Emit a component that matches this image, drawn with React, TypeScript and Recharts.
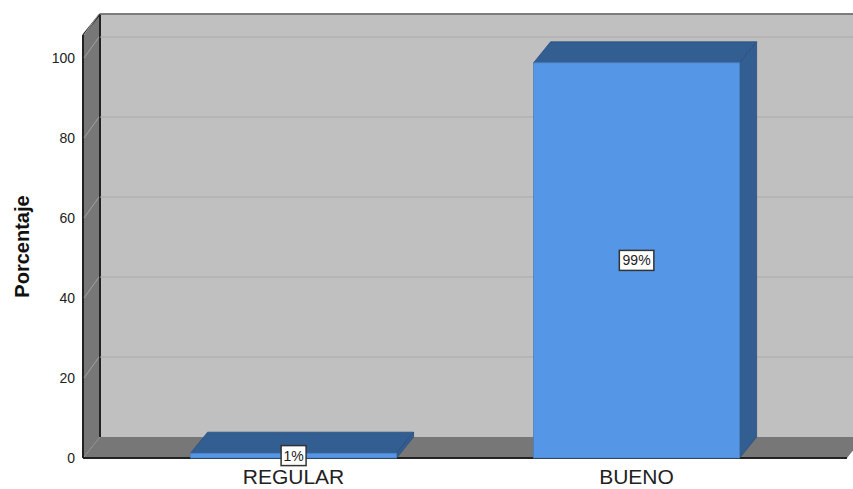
import { BarChart, Bar, XAxis, YAxis, CartesianGrid } from 'recharts';

const categories = ['REGULAR', 'BUENO'];
const percentages = [1.2, 98.8];
const valueLabels = ['1%', '99%'];
const yTicks = [0, 20, 40, 60, 80, 100];

const data = categories.map((name, i) => ({
  name,
  value: percentages[i],
  label: valueLabels[i],
}));

// profundidad del efecto 3D
const DX = 17;
const DY = -21;

const FONT = '"Liberation Sans", Arial, sans-serif';
const WALL = '#777777';
const BACK = '#c0c0c0';
const GRID = '#a9a9a9';
const EDGE = '#222222';
const FRONT = '#5596e6';
const DARK = '#335e92';

function GridLine(props: any) {
  const { x1, x2, y1, index, y, height } = props;
  const top = y;
  const bottom = y + height;
  const left = x1;
  const right = x2;
  const isBottom = Math.abs(y1 - bottom) < 1;
  return (
    <g>
      {index === 0 && (
        <g>
          <rect x={left + DX} y={top + DY} width={right - left + 20} height={height} fill={BACK} />
          <polygon
            points={`${left},${top} ${left + DX},${top + DY} ${left + DX},${bottom + DY} ${left},${bottom}`}
            fill={WALL}
          />
          <polygon
            points={`${left},${bottom} ${left + DX},${bottom + DY} ${right + DX},${bottom + DY} ${right},${bottom}`}
            fill={WALL}
          />
          <line x1={left} y1={top} x2={left + DX} y2={top + DY} stroke={EDGE} strokeWidth={1.5} />
          <line x1={left + DX} y1={top + DY} x2={right + DX + 20} y2={top + DY} stroke={EDGE} strokeWidth={1.5} />
          <line x1={left + DX} y1={top + DY} x2={left + DX} y2={bottom + DY} stroke={EDGE} strokeWidth={2} />
          <line x1={left} y1={top} x2={left} y2={bottom} stroke={EDGE} strokeWidth={2} />
          <line x1={left} y1={bottom} x2={right} y2={bottom} stroke={EDGE} strokeWidth={2} />
        </g>
      )}
      {!isBottom && (
        <g>
          <line x1={left + DX} y1={y1 + DY} x2={right + DX + 20} y2={y1 + DY} stroke={GRID} strokeWidth={1} />
          <line x1={left + 1} y1={y1} x2={left + DX - 1} y2={y1 + DY} stroke="#a0a0a0" strokeWidth={1} />
        </g>
      )}
    </g>
  );
}

function Bar3D(props: any) {
  const { x, y, width, height, payload } = props;
  const right = x + width;
  const bottom = y + height;
  const label = payload?.label ?? '';
  const cx = x + width / 2;
  const cy = y + height / 2;
  const boxW = label.length * 9.5 + 6;
  const boxH = 20;
  return (
    <g>
      <polygon
        points={`${x},${y} ${x + DX},${y + DY} ${right + DX},${y + DY} ${right},${y}`}
        fill={DARK}
        stroke="#2b4f7c"
        strokeWidth={0.8}
      />
      <polygon
        points={`${right},${y} ${right + DX},${y + DY} ${right + DX},${bottom + DY} ${right},${bottom}`}
        fill={DARK}
        stroke="#2b4f7c"
        strokeWidth={0.8}
      />
      <rect x={x} y={y} width={width} height={height} fill={FRONT} stroke="#4a7fc0" strokeWidth={0.8} />
      <rect
        x={cx - boxW / 2}
        y={cy - boxH / 2}
        width={boxW}
        height={boxH}
        fill="#ffffff"
        stroke="#333333"
        strokeWidth={1.5}
      />
      <text
        x={cx}
        y={cy + 5}
        textAnchor="middle"
        fontFamily={FONT}
        fontSize={14}
        fill="#222222"
      >
        {label}
      </text>
    </g>
  );
}

export default function App() {
  return (
    <div style={{ position: 'absolute', left: 0, top: 0, width: 853, height: 489, background: '#ffffff' }}>
      <BarChart
        width={853}
        height={489}
        data={data}
        margin={{ top: 35, right: 6, bottom: 0, left: 0 }}
        barCategoryGap="20%"
      >
        <CartesianGrid vertical={false} horizontal={(p: any) => <GridLine {...p} />} />
        <XAxis
          dataKey="name"
          height={31}
          axisLine={false}
          tickLine={false}
          tickMargin={5}
          padding={{ left: 39, right: 39 }}
          tick={{ fontSize: 21, fill: '#222222', fontFamily: FONT }}
        />
        <YAxis
          width={83}
          domain={[0, 105.75]}
          ticks={yTicks}
          axisLine={false}
          tickLine={false}
          tick={{ fontSize: 14, fill: '#222222', fontFamily: FONT }}
          label={{
            value: 'Porcentaje',
            angle: -90,
            position: 'insideLeft',
            offset: 22,
            style: { textAnchor: 'middle', fontSize: 20, fontWeight: 'bold', fill: '#111111', fontFamily: FONT },
          }}
        />
        <Bar dataKey="value" shape={(p: any) => <Bar3D {...p} />} isAnimationActive={false} />
      </BarChart>
    </div>
  );
}
